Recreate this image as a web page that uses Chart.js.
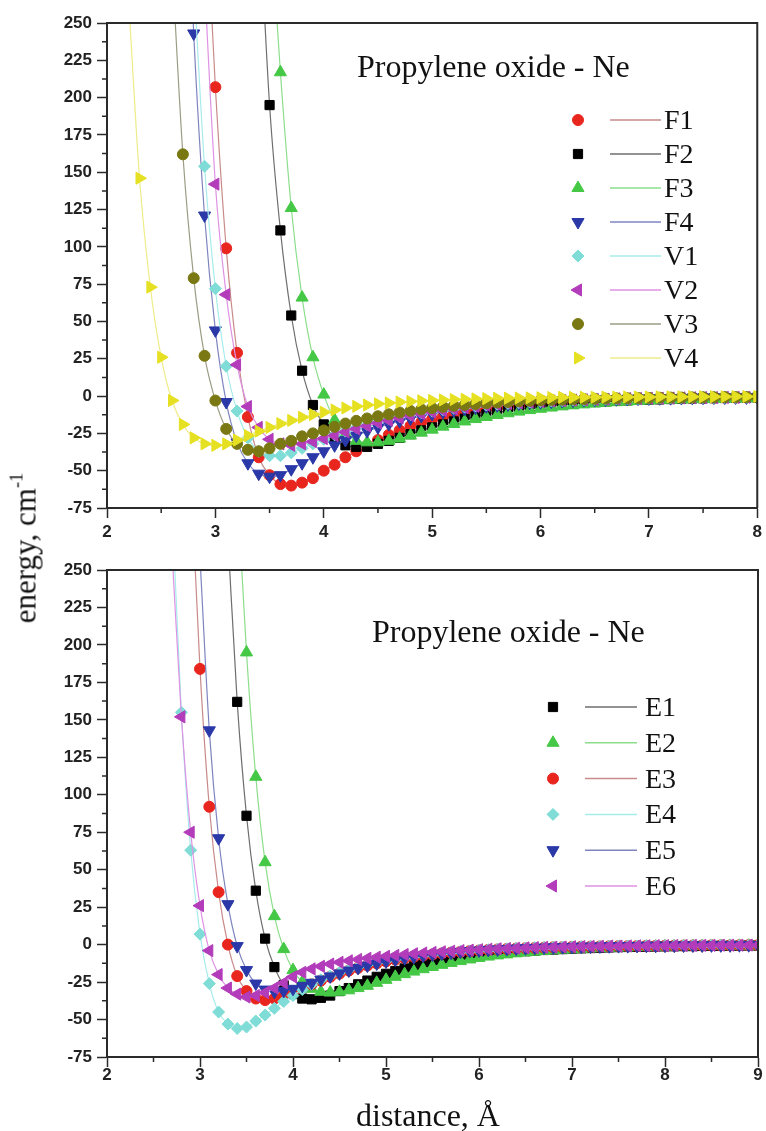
<!DOCTYPE html>
<html>
<head>
<meta charset="utf-8">
<script src="https://cdn.jsdelivr.net/npm/chart.js"></script>
<style>
  body { margin: 0; background: #fff; }
  #page { position: relative; width: 766px; height: 1131px; overflow: hidden; background: #fff; }
  .box { position: absolute; left: 0; width: 766px; }
  #topBox { top: 0; height: 548px; }
  #botBox { top: 548px; height: 583px; }
  .axisTitle {
    position: absolute; font-family: "Liberation Serif", "Times New Roman", serif;
    color: #111; white-space: nowrap; line-height: 1;
  }
  #yTitle { left: 25px; top: 548px; font-size: 31px; transform: translate(-50%, -50%) rotate(-90deg); }
  #yTitle sup { font-size: 0.6em; vertical-align: 0.7em; line-height: 0; }
  #xTitle { left: 428px; top: 1115px; font-size: 32px; transform: translate(-50%, -50%); }
</style>
</head>
<body>
<div id="page">
  <div class="box" id="topBox"><canvas id="topChart"></canvas></div>
  <div class="box" id="botBox"><canvas id="botChart"></canvas></div>
  <div class="axisTitle" id="yTitle">energy, cm<sup>-1</sup></div>
  <div class="axisTitle" id="xTitle">distance, Å</div>
</div>
<script>
// ---- data: top panel (distance in Å, energy in cm-1) ----
const distTop = [
  2.2, 2.3, 2.4, 2.5, 2.6, 2.7, 2.8, 2.9,
  3.0, 3.1, 3.2, 3.3, 3.4, 3.5, 3.6, 3.7, 3.8, 3.9,
  4.0, 4.1, 4.2, 4.3, 4.4, 4.5, 4.6, 4.7, 4.8, 4.9,
  5.0, 5.1, 5.2, 5.3, 5.4, 5.5, 5.6, 5.7, 5.8, 5.9,
  6.0, 6.1, 6.2, 6.3, 6.4, 6.5, 6.6, 6.7, 6.8, 6.9,
  7.0, 7.1, 7.2, 7.3, 7.4, 7.5, 7.6, 7.7, 7.8, 7.9,
  8.0
];
const F1 = [
  null, null, null, null, null, null, null, 350,
  207, 99, 29, -14, -41, -53, -59, -60, -58, -55,
  -50, -46, -41, -37, -33, -29.5, -26, -23, -20, -17.5,
  -15.5, -13.7, -12.1, -10.7, -9.5, -8.4, -7.5, -6.7, -6.0, -5.4,
  -4.8, -4.3, -3.9, -3.5, -3.2, -2.9, -2.6, -2.4, -2.2, -2.0,
  -1.8, -1.7, -1.5, -1.4, -1.3, -1.2, -1.1, -1.0, -1.0, -0.9,
  -0.8
];
const F2 = [
  null, null, null, null, null, null, null, null,
  null, null, null, null, 332, 195, 111, 54, 17, -6,
  -19, -28, -33, -34, -34, -32, -30, -28, -25.5, -23,
  -21, -19, -17, -15.2, -13.6, -12.2, -10.9, -9.7, -8.7, -7.8,
  -7.0, -6.2, -5.6, -5.0, -4.5, -4.0, -3.6, -3.2, -2.9, -2.6,
  -2.4, -2.2, -2.0, -1.8, -1.6, -1.5, -1.4, -1.3, -1.2, -1.1,
  -1.0
];
const F3 = [
  null, null, null, null, null, null, null, null,
  null, null, null, null, null, 327, 217, 126, 66, 26,
  1, -16, -25, -30, -31, -31, -30, -28.5, -26.5, -24.5,
  -22.5, -20.5, -18.7, -17, -15.4, -14, -12.7, -11.5, -10.4, -9.4,
  -8.5, -7.7, -6.9, -6.2, -5.6, -5.0, -4.5, -4.1, -3.7, -3.3,
  -3.0, -2.7, -2.5, -2.3, -2.1, -1.9, -1.8, -1.7, -1.6, -1.5,
  -1.4
];
const F4 = [
  null, null, null, null, null, 420, 243, 121,
  44, -4, -31, -45, -52, -54, -53, -49, -45, -41,
  -37, -33, -29.5, -26.5, -23.5, -21, -18.8, -16.8, -15, -13.4,
  -12, -10.7, -9.6, -8.6, -7.7, -6.9, -6.2, -5.6, -5.0, -4.5,
  -4.1, -3.7, -3.3, -3.0, -2.7, -2.5, -2.3, -2.1, -1.9, -1.7,
  -1.6, -1.5, -1.4, -1.3, -1.2, -1.1, -1.0, -1.0, -0.9, -0.9,
  -0.8
];
const V1 = [
  null, null, null, null, null, null, 280, 154,
  72, 20, -10, -28, -37, -40, -40, -38, -35, -32,
  -29, -26, -23.5, -21, -19, -17, -15.3, -13.8, -12.4, -11.2,
  -10.1, -9.1, -8.2, -7.4, -6.7, -6.0, -5.4, -4.9, -4.4, -4.0,
  -3.6, -3.3, -3.0, -2.7, -2.5, -2.3, -2.1, -1.9, -1.7, -1.6,
  -1.5, -1.4, -1.3, -1.2, -1.1, -1.0, -1.0, -0.9, -0.9, -0.8,
  -0.8
];
const V2 = [
  null, null, null, null, null, null, null, 277,
  142, 68, 21, -7, -21, -29, -32, -33, -32, -30.5,
  -28.5, -26.5, -24, -22, -20, -18, -16.3, -14.7, -13.2, -11.9,
  -10.7, -9.6, -8.6, -7.7, -6.9, -6.2, -5.6, -5.0, -4.5, -4.1,
  -3.7, -3.3, -3.0, -2.7, -2.5, -2.3, -2.1, -1.9, -1.7, -1.6,
  -1.5, -1.4, -1.3, -1.2, -1.1, -1.0, -1.0, -0.9, -0.9, -0.8,
  -0.8
];
const V3 = [
  null, null, null, null, 290, 162, 79, 27,
  -3, -22, -32, -36, -37, -35, -32, -30, -27, -25,
  -23, -20.6, -18.4, -16.6, -15, -13.5, -12.2, -11, -9.9, -8.9,
  -8.0, -7.2, -6.5, -5.9, -5.3, -4.8, -4.3, -3.9, -3.5, -3.2,
  -2.9, -2.6, -2.4, -2.2, -2.0, -1.8, -1.7, -1.5, -1.4, -1.3,
  -1.2, -1.1, -1.0, -1.0, -0.9, -0.8, -0.8, -0.7, -0.7, -0.7,
  -0.6
];
const V4 = [
  265, 146, 73, 26, -3, -19, -28, -32,
  -33, -32, -29.5, -26.5, -23.5, -21, -18.5, -16.3, -14.2, -12.4,
  -10.8, -9.3, -8.0, -6.9, -6.0, -5.2, -4.6, -4.0, -3.6, -3.2,
  -2.9, -2.6, -2.3, -2.1, -1.9, -1.7, -1.5, -1.4, -1.3, -1.2,
  -1.1, -1.0, -0.9, -0.9, -0.8, -0.8, -0.7, -0.7, -0.6, -0.6,
  -0.6, -0.5, -0.5, -0.5, -0.4, -0.4, -0.4, -0.4, -0.3, -0.3,
  -0.3
];

// ---- data: bottom panel ----
const distBottom = [
  2.7, 2.8, 2.9,
  3.0, 3.1, 3.2, 3.3, 3.4, 3.5, 3.6, 3.7, 3.8, 3.9,
  4.0, 4.1, 4.2, 4.3, 4.4, 4.5, 4.6, 4.7, 4.8, 4.9,
  5.0, 5.1, 5.2, 5.3, 5.4, 5.5, 5.6, 5.7, 5.8, 5.9,
  6.0, 6.1, 6.2, 6.3, 6.4, 6.5, 6.6, 6.7, 6.8, 6.9,
  7.0, 7.1, 7.2, 7.3, 7.4, 7.5, 7.6, 7.7, 7.8, 7.9,
  8.0, 8.1, 8.2, 8.3, 8.4, 8.5, 8.6, 8.7, 8.8, 8.9,
  9.0
];
const E1 = [
  null, null, null,
  null, null, null, 272, 162, 86, 36, 4, -15, -27,
  -33, -36, -36.5, -35.5, -34, -31, -29, -26.5, -24, -21.5,
  -19.5, -17.6, -15.9, -14.4, -13.0, -11.8, -10.7, -9.7, -8.8, -8.0,
  -7.2, -6.5, -5.9, -5.3, -4.8, -4.4, -4.0, -3.6, -3.3, -3.0,
  -2.7, -2.5, -2.3, -2.1, -1.9, -1.7, -1.6, -1.5, -1.4, -1.3,
  -1.2, -1.1, -1.0, -1.0, -0.9, -0.8, -0.8, -0.7, -0.7, -0.6,
  -0.6
];
const E2 = [
  null, null, null,
  null, null, null, null, 305, 195, 112, 55, 19, -3,
  -17, -25, -29.5, -31.5, -32, -31.5, -30.5, -29, -27.5, -25.5,
  -23.5, -21.5, -19.7, -18, -16.4, -14.9, -13.5, -12.2, -11, -9.9,
  -8.9, -8.0, -7.2, -6.5, -5.8, -5.2, -4.7, -4.2, -3.8, -3.4,
  -3.1, -2.8, -2.5, -2.3, -2.1, -1.9, -1.8, -1.6, -1.5, -1.4,
  -1.3, -1.2, -1.1, -1.0, -1.0, -0.9, -0.9, -0.8, -0.8, -0.7,
  -0.7
];
const E3 = [
  null, null, 316,
  184, 92, 35, 0, -21, -31, -36, -37, -36, -34,
  -31.5, -29, -26.5, -24, -21.5, -19.3, -17.3, -15.5, -13.9, -12.5,
  -11.2, -10.0, -9.0, -8.1, -7.3, -6.6, -5.9, -5.3, -4.8, -4.3,
  -3.9, -3.5, -3.2, -2.9, -2.6, -2.4, -2.2, -2.0, -1.8, -1.7,
  -1.5, -1.4, -1.3, -1.2, -1.1, -1.0, -1.0, -0.9, -0.8, -0.8,
  -0.7, -0.7, -0.6, -0.6, -0.6, -0.5, -0.5, -0.5, -0.4, -0.4,
  -0.4
];
const E4 = [
  291, 155, 63,
  7, -26, -45, -53, -56, -55, -51, -47, -42.5, -38,
  -34, -30, -26.5, -23.5, -21, -18.7, -16.7, -15, -13.4, -12,
  -10.8, -9.7, -8.7, -7.8, -7.0, -6.3, -5.7, -5.1, -4.6, -4.2,
  -3.8, -3.4, -3.1, -2.8, -2.5, -2.3, -2.1, -1.9, -1.7, -1.6,
  -1.5, -1.4, -1.3, -1.2, -1.1, -1.0, -0.9, -0.9, -0.8, -0.8,
  -0.7, -0.7, -0.6, -0.6, -0.6, -0.5, -0.5, -0.5, -0.4, -0.4,
  -0.4
];
const E5 = [
  null, null, null,
  258, 143, 71, 27, -1, -17, -26, -30, -31.5, -31,
  -29.5, -27.5, -25.5, -23.3, -21.2, -19.2, -17.3, -15.6, -14, -12.6,
  -11.3, -10.1, -9.1, -8.2, -7.4, -6.6, -6.0, -5.4, -4.8, -4.3,
  -3.9, -3.5, -3.2, -2.9, -2.6, -2.4, -2.2, -2.0, -1.8, -1.7,
  -1.5, -1.4, -1.3, -1.2, -1.1, -1.0, -1.0, -0.9, -0.8, -0.8,
  -0.7, -0.7, -0.6, -0.6, -0.6, -0.5, -0.5, -0.5, -0.4, -0.4,
  -0.4
];
const E6 = [
  261, 152, 75,
  26, -4, -20, -29, -33, -35, -34, -32, -29, -25.5,
  -21.5, -18.5, -16.2, -14.5, -13, -11.8, -10.8, -9.9, -9.1, -8.4,
  -7.8, -7.2, -6.6, -6.1, -5.6, -5.2, -4.8, -4.4, -4.0, -3.7,
  -3.4, -3.1, -2.8, -2.6, -2.4, -2.2, -2.0, -1.8, -1.7, -1.6,
  -1.4, -1.3, -1.2, -1.1, -1.0, -1.0, -0.9, -0.8, -0.8, -0.7,
  -0.7, -0.6, -0.6, -0.5, -0.5, -0.5, -0.4, -0.4, -0.4, -0.3,
  -0.3
];

// tick labels
const energyTicks = [-75, -50, -25, 0, 25, 50, 75, 100, 125, 150, 175, 200, 225, 250];
const distTicksTop = [2, 3, 4, 5, 6, 7, 8];
const distTicksBottom = [2, 3, 4, 5, 6, 7, 8, 9];

// series styles (marker colour, line colour, marker shape)
const topSeries = [
  { label: 'F1', data: F1, color: '#e8261e', line: '#c98a8a', shape: 'circle',   rot: 0,   r: 5.5 },
  { label: 'F2', data: F2, color: '#000000', line: '#6e6e6e', shape: 'rect',     rot: 0,   r: 6.5 },
  { label: 'F3', data: F3, color: '#45c845', line: '#8cde8c', shape: 'triangle', rot: 0,   r: 7 },
  { label: 'F4', data: F4, color: '#2a38a8', line: '#7f84bf', shape: 'triangle', rot: 180, r: 7 },
  { label: 'V1', data: V1, color: '#7fdcd6', line: '#a6ecea', shape: 'rectRot',  rot: 0,   r: 6 },
  { label: 'V2', data: V2, color: '#b23cba', line: '#de92e4', shape: 'triangle', rot: -90, r: 7 },
  { label: 'V3', data: V3, color: '#7a7812', line: '#9c9c84', shape: 'circle',   rot: 0,   r: 5.5 },
  { label: 'V4', data: V4, color: '#e6e022', line: '#eeec8a', shape: 'triangle', rot: 90,  r: 7 }
];
const bottomSeries = [
  { label: 'E1', data: E1, color: '#000000', line: '#6e6e6e', shape: 'rect',     rot: 0,   r: 6.5 },
  { label: 'E2', data: E2, color: '#45c845', line: '#8cde8c', shape: 'triangle', rot: 0,   r: 7 },
  { label: 'E3', data: E3, color: '#e8261e', line: '#c98a8a', shape: 'circle',   rot: 0,   r: 5.5 },
  { label: 'E4', data: E4, color: '#7fdcd6', line: '#a6ecea', shape: 'rectRot',  rot: 0,   r: 6 },
  { label: 'E5', data: E5, color: '#2a38a8', line: '#7f84bf', shape: 'triangle', rot: 180, r: 7 },
  { label: 'E6', data: E6, color: '#b23cba', line: '#de92e4', shape: 'triangle', rot: -90, r: 7 }
];

function makeSets(xs, series) {
  return series.map((s, i) => ({
    label: s.label,
    data: xs.map((x, j) => ({ x: x, y: s.data[j] })),
    borderColor: s.line,
    borderWidth: 1.2,
    backgroundColor: s.color,
    pointBackgroundColor: s.color,
    pointBorderColor: s.color,
    pointBorderWidth: 1,
    pointStyle: s.shape,
    pointRotation: s.rot,
    pointRadius: s.r,
    cubicInterpolationMode: 'monotone',
    order: series.length - i // last series drawn on top
  }));
}

// box, minor ticks, panel title and legend
const decor = {
  id: 'decor',
  afterDraw(chart, args, o) {
    const ctx = chart.ctx, a = chart.chartArea, sx = chart.scales.x, sy = chart.scales.y;
    ctx.save();
    ctx.strokeStyle = '#2a2a2a';
    ctx.lineWidth = 2;
    ctx.beginPath();
    ctx.moveTo(a.left, a.top);
    ctx.lineTo(a.right, a.top);
    ctx.lineTo(a.right, a.bottom);
    ctx.stroke();

    ctx.lineWidth = 1.5;
    ctx.beginPath();
    for (let i = 0; i < o.xTicks.length - 1; i++) {
      const px = sx.getPixelForValue((o.xTicks[i] + o.xTicks[i + 1]) / 2);
      ctx.moveTo(px, a.bottom);
      ctx.lineTo(px, a.bottom + 5);
    }
    for (let i = 0; i < energyTicks.length - 1; i++) {
      const py = sy.getPixelForValue((energyTicks[i] + energyTicks[i + 1]) / 2);
      ctx.moveTo(a.left, py);
      ctx.lineTo(a.left - 5, py);
    }
    ctx.stroke();

    ctx.fillStyle = '#111';
    ctx.textAlign = 'left';
    ctx.textBaseline = 'alphabetic';
    ctx.font = o.titleSize + 'px "Liberation Serif"';
    ctx.fillText(o.title, o.titleX, o.titleY);

    ctx.font = '28px "Liberation Serif"';
    chart.data.datasets.forEach((ds, i) => {
      const y = o.legendY + i * o.legendStep;
      ctx.fillStyle = ds.pointBackgroundColor;
      ctx.strokeStyle = ds.pointBorderColor;
      ctx.lineWidth = 1;
      Chart.helpers.drawPoint(ctx, {
        pointStyle: ds.pointStyle, rotation: ds.pointRotation,
        radius: ds.pointRadius, borderWidth: 1
      }, o.markerX, y);
      ctx.strokeStyle = ds.borderColor;
      ctx.lineWidth = 1.5;
      ctx.beginPath();
      ctx.moveTo(o.lineX0, y);
      ctx.lineTo(o.lineX1, y);
      ctx.stroke();
      ctx.fillStyle = '#111';
      ctx.fillText(ds.label, o.textX, y + 9);
    });
    ctx.restore();
  }
};

function axisOpts(ticks, min, max, isX, fitSize, pad) {
  return {
    type: 'linear',
    min: min,
    max: max,
    afterBuildTicks: s => { s.ticks = ticks.map(v => ({ value: v })); },
    afterFit: s => { if (isX) s.height = fitSize; else s.width = fitSize; },
    grid: { drawOnChartArea: false, drawTicks: true, tickLength: 10, tickWidth: 1.5, tickColor: '#2a2a2a' },
    border: { display: true, color: '#2a2a2a', width: 2 },
    ticks: {
      autoSkip: false, maxRotation: 0, padding: pad, color: '#222',
      font: { family: '"Liberation Sans", Arial, sans-serif', size: 17, weight: 'bold' }
    }
  };
}

function build(id, xs, series, xTicks, xMax, xFit, xPad, padTop, deco) {
  return new Chart(document.getElementById(id), {
    type: 'line',
    data: { datasets: makeSets(xs, series) },
    options: {
      responsive: true,
      maintainAspectRatio: false,
      animation: false,
      layout: { padding: { top: padTop, right: 6, left: 0, bottom: 0 } },
      plugins: { legend: { display: false }, tooltip: { enabled: false }, decor: deco },
      scales: {
        x: axisOpts(xTicks, 2, xMax, true, xFit, xPad),
        y: axisOpts(energyTicks, -75, 250, false, 107, 5)
      }
    },
    plugins: [decor]
  });
}

build('topChart', distTop, topSeries, distTicksTop, 8, 40, 4, 23, {
  xTicks: distTicksTop, title: 'Propylene oxide - Ne', titleSize: 32, titleX: 357, titleY: 77,
  markerX: 578, lineX0: 610, lineX1: 661, textX: 664, legendY: 120, legendStep: 34
});
build('botChart', distBottom, bottomSeries, distTicksBottom, 9, 74, -2, 22, {
  xTicks: distTicksBottom, title: 'Propylene oxide - Ne', titleSize: 32, titleX: 372, titleY: 94,
  markerX: 553, lineX0: 585, lineX1: 637, textX: 645, legendY: 159, legendStep: 35.8
});
</script>
</body>
</html>
